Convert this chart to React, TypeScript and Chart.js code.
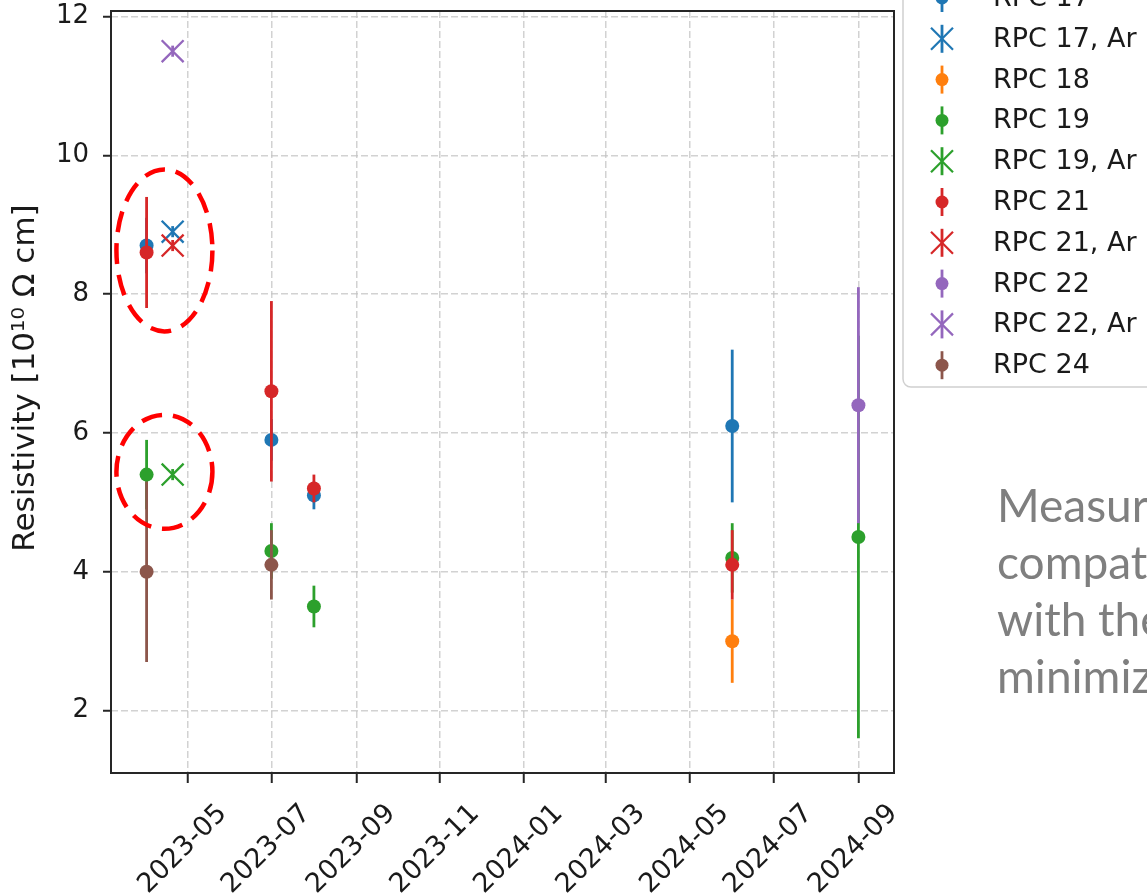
import React, { useEffect, useRef } from 'react';
import { Chart, registerables } from 'chart.js';

Chart.register(...registerables);

const FONT = "'DejaVu Sans', 'Liberation Sans', sans-serif";

// ---- axis tick labels ----
const xTickLabels = ['2023-05', '2023-07', '2023-09', '2023-11', '2024-01', '2024-03', '2024-05', '2024-07', '2024-09'];
const yTickValues = [2, 4, 6, 8, 10, 12];
const yAxisTitle = 'Resistivity [10¹⁰ Ω cm]';

// ---- series ----
const seriesLabels = ['RPC 17', 'RPC 17, Ar', 'RPC 18', 'RPC 19', 'RPC 19, Ar', 'RPC 21', 'RPC 21, Ar', 'RPC 22', 'RPC 22, Ar', 'RPC 24'];

const rpc17Dates = ['2023-04-01', '2023-07-01', '2023-08-01', '2024-06-01'];
const rpc17Values = [8.7, 5.9, 5.1, 6.1];
const rpc17Errors = [0.4, 0.3, 0.2, 1.1];

const rpc17ArDates = ['2023-04-20'];
const rpc17ArValues = [8.9];
const rpc17ArErrors = [0.08];

const rpc18Dates = ['2024-06-01'];
const rpc18Values = [3.0];
const rpc18Errors = [0.6];

const rpc19Dates = ['2023-04-01', '2023-07-01', '2023-08-01', '2024-06-01', '2024-09-01'];
const rpc19Values = [5.4, 4.3, 3.5, 4.2, 4.5];
const rpc19Errors = [0.5, 0.4, 0.3, 0.5, 2.9];

const rpc19ArDates = ['2023-04-20'];
const rpc19ArValues = [5.4];
const rpc19ArErrors = [0.08];

const rpc21Dates = ['2023-04-01', '2023-07-01', '2023-08-01', '2024-06-01'];
const rpc21Values = [8.6, 6.6, 5.2, 4.1];
const rpc21Errors = [0.8, 1.3, 0.2, 0.5];

const rpc21ArDates = ['2023-04-20'];
const rpc21ArValues = [8.7];
const rpc21ArErrors = [0.08];

const rpc22Dates = ['2024-09-01'];
const rpc22Values = [6.4];
const rpc22Errors = [1.7];

const rpc22ArDates = ['2023-04-20'];
const rpc22ArValues = [11.5];
const rpc22ArErrors = [0.08];

const rpc24Dates = ['2023-04-01', '2023-07-01'];
const rpc24Values = [4.0, 4.1];
const rpc24Errors = [1.3, 0.5];

const seriesColors = ['#1f77b4', '#1f77b4', '#ff7f0e', '#2ca02c', '#2ca02c', '#d62728', '#d62728', '#9467bd', '#9467bd', '#8c564b'];
const seriesMarkers = ['circle', 'crossRot', 'circle', 'circle', 'crossRot', 'circle', 'crossRot', 'circle', 'crossRot', 'circle'];

// ---- highlight annotations (dashed ellipses) ----
const highlightDates = ['2023-04-14', '2023-04-14'];
const highlightValues = [8.63, 5.44];

// ---- side note text ----
const noteLines = ['Measure', 'compat', 'with the', 'minimiz'];

const seriesData = [
  [rpc17Dates, rpc17Values, rpc17Errors],
  [rpc17ArDates, rpc17ArValues, rpc17ArErrors],
  [rpc18Dates, rpc18Values, rpc18Errors],
  [rpc19Dates, rpc19Values, rpc19Errors],
  [rpc19ArDates, rpc19ArValues, rpc19ArErrors],
  [rpc21Dates, rpc21Values, rpc21Errors],
  [rpc21ArDates, rpc21ArValues, rpc21ArErrors],
  [rpc22Dates, rpc22Values, rpc22Errors],
  [rpc22ArDates, rpc22ArValues, rpc22ArErrors],
  [rpc24Dates, rpc24Values, rpc24Errors],
] as [string[], number[], number[]][];

const toTime = (s: string) => {
  const [y, m, d] = s.split('-').map(Number);
  return Date.UTC(y, m - 1, d || 1);
};

const ELLIPSE_STYLE = [
  { rx: 48, ry: 81 },
  { rx: 48, ry: 57 },
];

function drawMarker(ctx: CanvasRenderingContext2D, style: string, x: number, y: number, color: string) {
  ctx.save();
  if (style === 'circle') {
    ctx.fillStyle = color;
    ctx.beginPath();
    ctx.arc(x, y, 6.5, 0, Math.PI * 2);
    ctx.fill();
  } else {
    ctx.strokeStyle = color;
    ctx.lineWidth = 2.2;
    const h = 11;
    ctx.beginPath();
    ctx.moveTo(x - h, y - h);
    ctx.lineTo(x + h, y + h);
    ctx.moveTo(x - h, y + h);
    ctx.lineTo(x + h, y - h);
    ctx.stroke();
  }
  ctx.restore();
}

const errorBarPlugin = {
  id: 'errorBars',
  beforeDatasetDraw(chart: any, args: any) {
    const ds = chart.data.datasets[args.index];
    const errs: number[] = ds.yErr || [];
    const xs = chart.scales.x;
    const ys = chart.scales.y;
    const ctx = chart.ctx;
    const area = chart.chartArea;
    ctx.save();
    ctx.beginPath();
    ctx.rect(area.left, area.top, area.right - area.left, area.bottom - area.top);
    ctx.clip();
    ctx.strokeStyle = ds.borderColor;
    ctx.lineWidth = 2.8;
    ds.data.forEach((p: any, i: number) => {
      const e = errs[i] || 0;
      const px = xs.getPixelForValue(p.x);
      ctx.beginPath();
      ctx.moveTo(px, ys.getPixelForValue(p.y - e));
      ctx.lineTo(px, ys.getPixelForValue(p.y + e));
      ctx.stroke();
    });
    ctx.restore();
  },
};

const framePlugin = {
  id: 'frameAndNotes',
  afterDatasetsDraw(chart: any) {
    const ctx = chart.ctx;
    const a = chart.chartArea;
    const xs = chart.scales.x;
    const ys = chart.scales.y;
    ctx.save();
    // highlight ellipses
    ctx.strokeStyle = '#ff0000';
    ctx.lineWidth = 4.5;
    ctx.setLineDash([21, 11]);
    highlightDates.forEach((d, i) => {
      const cx = xs.getPixelForValue(toTime(d));
      const cy = ys.getPixelForValue(highlightValues[i]);
      ctx.beginPath();
      ctx.ellipse(cx, cy, ELLIPSE_STYLE[i].rx, ELLIPSE_STYLE[i].ry, 0, 0, Math.PI * 2);
      ctx.stroke();
    });
    ctx.setLineDash([]);
    // axes frame
    ctx.strokeStyle = '#262626';
    ctx.lineWidth = 2;
    ctx.strokeRect(a.left, a.top, a.right - a.left, a.bottom - a.top);
    ctx.restore();
  },
  afterDraw(chart: any) {
    const ctx = chart.ctx;
    ctx.save();
    // y axis title
    ctx.save();
    ctx.translate(26, 378);
    ctx.rotate(-Math.PI / 2);
    ctx.fillStyle = '#1a1a1a';
    ctx.font = `31px ${FONT}`;
    ctx.textAlign = 'center';
    ctx.textBaseline = 'middle';
    ctx.fillText(yAxisTitle, 0, 0);
    ctx.restore();
    // legend box
    ctx.beginPath();
    ctx.roundRect(903, -60, 400, 447, 8);
    ctx.fillStyle = 'rgba(255,255,255,0.9)';
    ctx.fill();
    ctx.strokeStyle = '#d0d0d0';
    ctx.lineWidth = 1.5;
    ctx.stroke();
    const rowH = 40.8;
    const firstY = -2;
    chart.data.datasets.forEach((ds: any, i: number) => {
      const y = firstY + i * rowH;
      const mx = 942;
      ctx.strokeStyle = ds.borderColor;
      ctx.lineWidth = 2.8;
      ctx.beginPath();
      ctx.moveTo(mx, y - 14);
      ctx.lineTo(mx, y + 14);
      ctx.stroke();
      drawMarker(ctx, ds.pointStyle, mx, y, ds.borderColor);
      ctx.fillStyle = '#1a1a1a';
      ctx.font = `27px ${FONT}`;
      ctx.textBaseline = 'middle';
      ctx.textAlign = 'left';
      ctx.fillText(ds.label, 993, y + 1);
    });
    ctx.restore();
  },
};

export default function App() {
  const ref = useRef<HTMLCanvasElement | null>(null);

  useEffect(() => {
    if (!ref.current) return;
    document.body.style.margin = '0';

    const datasets = seriesData.map(([dates, values, errors], i) => ({
      label: seriesLabels[i],
      data: dates.map((d, j) => ({ x: toTime(d), y: values[j] })),
      yErr: errors,
      pointStyle: seriesMarkers[i],
      radius: seriesMarkers[i] === 'circle' ? 7 : 15.5,
      borderWidth: seriesMarkers[i] === 'circle' ? 0 : 2.3,
      backgroundColor: seriesColors[i],
      borderColor: seriesColors[i],
      showLine: false,
      order: seriesData.length - i,
    }));

    // 5% margins around the data extent (matplotlib auto limits)
    const allX: number[] = [];
    const allLo: number[] = [];
    const allHi: number[] = [];
    seriesData.forEach(([dates, values, errors]) => {
      dates.forEach((d, j) => {
        allX.push(toTime(d));
        allLo.push(values[j] - errors[j]);
        allHi.push(values[j] + errors[j]);
      });
    });
    const x0 = Math.min(...allX), x1 = Math.max(...allX);
    const y0 = Math.min(...allLo), y1 = Math.max(...allHi);
    const xMin = x0 - 0.05 * (x1 - x0), xMax = x1 + 0.05 * (x1 - x0);
    const yMin = y0 - 0.05 * (y1 - y0), yMax = y1 + 0.05 * (y1 - y0);

    const xTickValues = xTickLabels.map(toTime);
    const gridColor = 'rgba(195,195,195,0.75)';

    const chart = new Chart(ref.current, {
      type: 'scatter',
      data: { datasets: datasets as any },
      plugins: [errorBarPlugin, framePlugin],
      options: {
        responsive: false,
        animation: false,
        layout: { autoPadding: false, padding: { top: 11, right: 253, left: 0, bottom: 0 } },
        plugins: {
          legend: { display: false },
          tooltip: { enabled: false },
          title: { display: false },
        },
        scales: {
          x: {
            type: 'linear',
            min: xMin,
            max: xMax,
            afterBuildTicks: (s: any) => {
              s.ticks = xTickValues.map((v) => ({ value: v }));
            },
            afterFit: (s: any) => {
              s.height = 122;
              s.paddingLeft = 0;
              s.paddingRight = 0;
            },
            ticks: {
              autoSkip: false,
              minRotation: 45,
              maxRotation: 45,
              padding: 15,
              labelOffset: 35,
              color: '#1a1a1a',
              font: { family: FONT, size: 27 },
              callback: (v: any) => {
                const idx = xTickValues.indexOf(Number(v));
                return idx >= 0 ? xTickLabels[idx] : '';
              },
            },
            grid: {
              color: gridColor,
              lineWidth: 1.5,
              tickLength: 10,
              tickColor: '#262626',
              tickWidth: 2,
            },
            border: { display: false, dash: [7, 3] },
          },
          y: {
            min: yMin,
            max: yMax,
            afterBuildTicks: (s: any) => {
              s.ticks = yTickValues.map((v) => ({ value: v }));
            },
            afterFit: (s: any) => {
              s.width = 111;
              s.paddingTop = 0;
              s.paddingBottom = 0;
            },
            ticks: {
              padding: 14,
              color: '#1a1a1a',
              font: { family: FONT, size: 26, lineHeight: 0.3 },
            },
            grid: {
              color: gridColor,
              lineWidth: 1.5,
              tickLength: 8,
              tickColor: '#262626',
              tickWidth: 2,
            },
            border: { display: false, dash: [7, 3] },
            title: { display: false },
          },
        },
      } as any,
    });
    return () => chart.destroy();
  }, []);

  return (
    <div style={{ position: 'fixed', left: 0, top: 0, width: 1147, height: 895, overflow: 'hidden', background: '#fff' }}>
      <canvas ref={ref} width={1147} height={895} style={{ position: 'absolute', left: 0, top: 0 }} />
      <div
        style={{
          position: 'absolute',
          left: 997,
          top: 476,
          fontFamily: "Lato, 'Open Sans', sans-serif",
          fontSize: 46,
          lineHeight: '57px',
          color: '#7f7f7f',
          whiteSpace: 'pre',
        }}
      >
        {noteLines.map((l, i) => (
          <div key={i}>{l}</div>
        ))}
      </div>
    </div>
  );
}
